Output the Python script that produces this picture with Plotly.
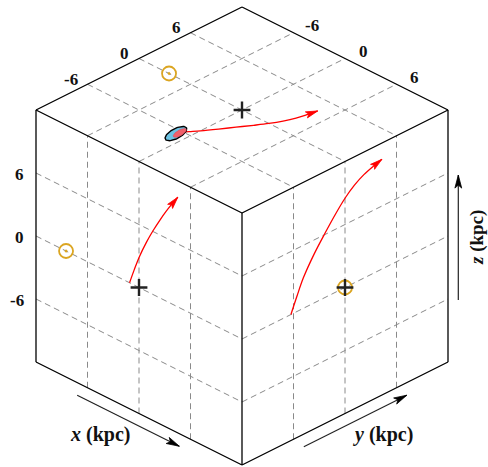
import numpy as np
import plotly.graph_objects as go

# ---------------- data (kpc) ----------------
half = 12.0                       # cube spans -12..12 kpc on each axis
grid_vals = [-6, 0, 6]
tick_labels = ["-6", "0", "6"]

# trajectory of the object (x, y, z in kpc)
traj_x = [-1.1, -0.56, 0.02, 0.86, 1.65, 2.46, 3.13, 3.68, 4.09, 4.34, 4.52]
traj_y = [-6.3, -5.6, -4.85, -3.6, -2.35, -1.1, 0.0, 1.1, 2.2, 3.3, 4.3]
traj_z = [0.0, 1.45, 2.9, 4.65, 6.1, 7.45, 8.5, 9.3, 9.85, 10.2, 10.45]

# Sun and Galactic centre
sun_xyz = (-8.5, 0.0, 0.0)
gc_xyz = (0.0, 0.0, 0.0)

# position-uncertainty ellipses of the object (x-y plane)
blob_outer = dict(cx=-1.1, cy=-6.6, a=1.35, b=0.6, phi_deg=12)
blob_inner = dict(cx=-0.95, cy=-6.3, a=0.85, b=0.34, phi_deg=12)

# ---------------- projection ----------------
KX = 206 / 24.0
KY = 103 / 24.0
KZ = 252 / 24.0


def proj(x, y, z):
    x = np.asarray(x, float)
    y = np.asarray(y, float)
    z = np.asarray(z, float)
    return KX * (x + y), KY * (y - x) + KZ * z


def face_pts(x, y, z, face):
    x = np.asarray(x, float)
    y = np.asarray(y, float)
    z = np.asarray(z, float)
    if face == "top":
        z = np.full_like(x, half)
    elif face == "left":
        y = np.full_like(x, -half)
    elif face == "right":
        x = np.full_like(y, half)
    return proj(x, y, z)


fig = go.Figure()

GRID = dict(color="#8a8a8a", width=1, dash="6px,4px")


def add_segments(segs, line):
    xs, ys = [], []
    for p, q in segs:
        X, Y = proj([p[0], q[0]], [p[1], q[1]], [p[2], q[2]])
        xs += list(X) + [None]
        ys += list(Y) + [None]
    fig.add_trace(go.Scatter(x=xs, y=ys, mode="lines", line=line,
                             hoverinfo="skip", showlegend=False))


h = half
segs = []
for v in grid_vals:
    # top face z = h
    segs.append(((v, -h, h), (v, h, h)))
    segs.append(((-h, v, h), (h, v, h)))
    # left face y = -h
    segs.append(((v, -h, -h), (v, -h, h)))
    segs.append(((-h, -h, v), (h, -h, v)))
    # right face x = h
    segs.append(((h, v, -h), (h, v, h)))
    segs.append(((h, -h, v), (h, h, v)))
add_segments(segs, GRID)

# cube edges
edges = [
    ((-h, h, h), (h, h, h)), ((h, h, h), (h, -h, h)),
    ((h, -h, h), (-h, -h, h)), ((-h, -h, h), (-h, h, h)),
    ((-h, -h, h), (-h, -h, -h)), ((h, h, h), (h, h, -h)),
    ((h, -h, h), (h, -h, -h)),
    ((-h, -h, -h), (h, -h, -h)), ((h, -h, -h), (h, h, -h)),
]
add_segments(edges, dict(color="black", width=1.3))


def arrow_head(X, Y, dX, dY, length=12, hw=3.2, notch=2.5, color="red"):
    n = np.hypot(dX, dY)
    ux, uy = dX / n, dY / n
    px, py = -uy, ux
    bx, by = X - ux * length, Y - uy * length
    nx, ny = X - ux * (length - notch), Y - uy * (length - notch)
    xs = [X, bx + px * hw, nx, bx - px * hw, X]
    ys = [Y, by + py * hw, ny, by - py * hw, Y]
    fig.add_trace(go.Scatter(x=xs, y=ys, mode="lines", fill="toself",
                             fillcolor=color, line=dict(color=color, width=0.8),
                             hoverinfo="skip", showlegend=False))


# trajectories on the three faces
for face in ["top", "left", "right"]:
    X, Y = face_pts(traj_x, traj_y, traj_z, face)
    fig.add_trace(go.Scatter(x=X, y=Y, mode="lines",
                             line=dict(color="red", width=1.3, shape="spline"),
                             hoverinfo="skip", showlegend=False))
    arrow_head(X[-1], Y[-1], X[-1] - X[-2], Y[-1] - Y[-2], color="red")


# ellipses on top face
def ellipse(p):
    t = np.linspace(0, 2 * np.pi, 80)
    phi = np.radians(p["phi_deg"])
    du = p["a"] * np.cos(t)
    dv = p["b"] * np.sin(t)
    # major axis along y rotated by phi towards -x
    ex = -du * np.sin(phi) + dv * np.cos(phi)
    ey = du * np.cos(phi) + dv * np.sin(phi)
    return face_pts(p["cx"] + ex, p["cy"] + ey, np.zeros_like(t), "top")


X, Y = ellipse(blob_outer)
fig.add_trace(go.Scatter(x=X, y=Y, mode="lines", fill="toself",
                         fillcolor="#6cc3e3", line=dict(color="black", width=1.4),
                         hoverinfo="skip", showlegend=False))
X, Y = ellipse(blob_inner)
fig.add_trace(go.Scatter(x=X, y=Y, mode="lines", fill="toself",
                         fillcolor="#f0606a", line=dict(color="#e04050", width=0.5),
                         hoverinfo="skip", showlegend=False))

# Sun and GC markers on the faces
for face in ["top", "left", "right"]:
    X, Y = face_pts([sun_xyz[0]], [sun_xyz[1]], [sun_xyz[2]], face)
    fig.add_trace(go.Scatter(x=X, y=Y, mode="markers",
                             marker=dict(symbol="circle-open-dot", size=14,
                                         color="#dba521", line=dict(width=1.8)),
                             hoverinfo="skip", showlegend=False))
for face in ["top", "left", "right"]:
    X, Y = face_pts([gc_xyz[0]], [gc_xyz[1]], [gc_xyz[2]], face)
    fig.add_trace(go.Scatter(x=X, y=Y, mode="markers",
                             marker=dict(symbol="cross-thin", size=12,
                                         line=dict(width=2.4, color="#222222")),
                             hoverinfo="skip", showlegend=False))

# axis direction arrows
axis_arrows = [
    ((-7.2, -h, -13.2), (4.7, -h, -13.2)),
    ((h, -4.8, -13.2), (h, 7.2, -13.2)),
    ((12.6, 12.6, -6.1), (12.6, 12.6, 5.8)),
]
for p, q in axis_arrows:
    X, Y = proj([p[0], q[0]], [p[1], q[1]], [p[2], q[2]])
    fig.add_trace(go.Scatter(x=X, y=Y, mode="lines",
                             line=dict(color="#222222", width=1.2),
                             hoverinfo="skip", showlegend=False))
    arrow_head(X[1], Y[1], X[1] - X[0], Y[1] - Y[0], length=13, hw=3.4,
               notch=3, color="black")

# tick labels
FONT = dict(family="Liberation Serif, Times New Roman, serif", size=17,
            color="#111111", weight="bold")
ann = []
for v, lab in zip(grid_vals, tick_labels):
    X, Y = proj(-h, -h, v)        # z ticks, left edge
    ann.append(dict(x=float(X), y=float(Y), text=lab, xanchor="right",
                    yanchor="middle", xshift=-10, yshift=-1))
    X, Y = proj(-h, v, h)         # y ticks, top-left edge
    ann.append(dict(x=float(X), y=float(Y), text=lab, xanchor="right",
                    yanchor="middle", xshift=-8, yshift=5))
    X, Y = proj(v, h, h)          # x ticks, top-right edge
    ann.append(dict(x=float(X), y=float(Y), text=lab, xanchor="center",
                    yanchor="middle", xshift=18, yshift=7))
for a in ann:
    a.update(xref="x", yref="y", showarrow=False, font=FONT)

LFONT = dict(family="Liberation Serif, Times New Roman, serif", size=20,
             color="#111111", weight="bold")
ZFONT = dict(LFONT, size=19)
ann += [
    dict(x=-142, y=-198, text="<i>x</i> (kpc)", xref="x", yref="y",
         showarrow=False, font=LFONT),
    dict(x=141, y=-198, text="<i>y</i> (kpc)", xref="x", yref="y",
         showarrow=False, font=LFONT),
    dict(x=235, y=-2, text="<i>z</i> (kpc)", xref="x", yref="y",
         showarrow=False, font=ZFONT, textangle=-90, borderpad=0),
]

fig.update_layout(
    width=488, height=467,
    margin=dict(l=0, r=0, t=0, b=0),
    paper_bgcolor="white", plot_bgcolor="white",
    xaxis=dict(range=[-242, 246], visible=False, fixedrange=True),
    yaxis=dict(range=[-231, 236], visible=False, fixedrange=True),
    annotations=ann,
    showlegend=False,
    hovermode=False,
)

# remove the browser's default body margin so the figure fills the window
fig.write_html(
    "out.html",
    config={"displayModeBar": False, "staticPlot": True},
    post_script="document.body.style.margin='0';"
                "document.body.style.overflow='hidden';",
)
